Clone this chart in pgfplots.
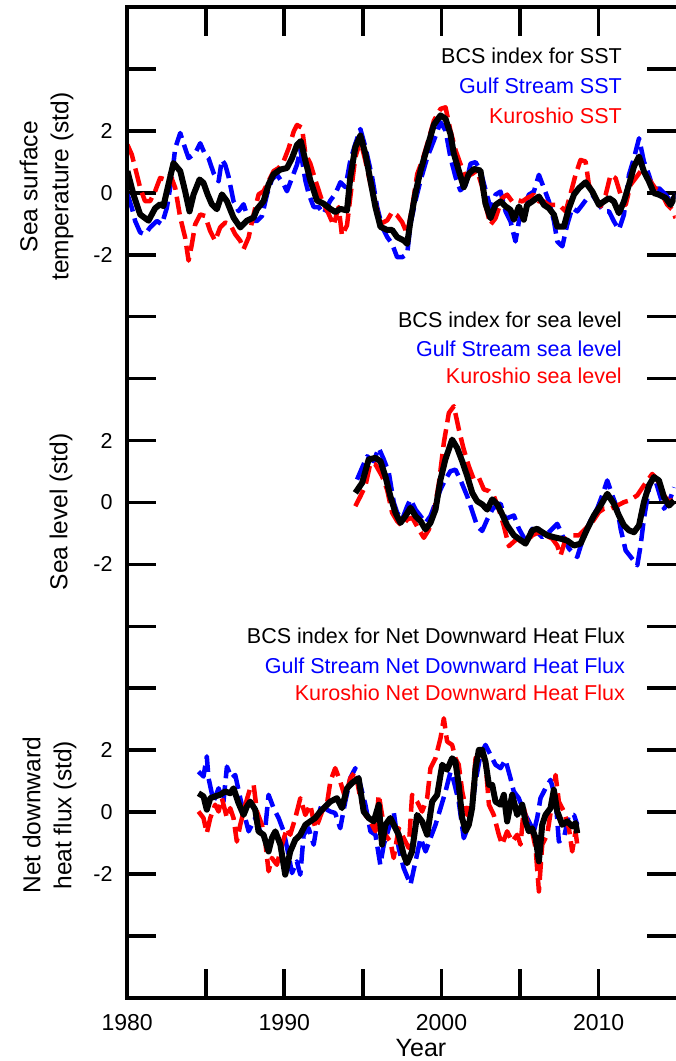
\documentclass[border=0pt]{standalone}
\usepackage{fontspec}
\setmainfont{Liberation Sans}
\usepackage{pgfplots}
\pgfplotsset{compat=1.18}
\pgfplotsset{
  gs/.style={blue, line width=4.5pt, dash pattern=on 18pt off 7pt, line join=round},
  ku/.style={red, line width=4.5pt, dash pattern=on 18pt off 7pt, line join=round},
  bcs/.style={black, line width=6pt, line join=round},
  sst/.style={y filter/.expression={y+10}},
  nhf/.style={y filter/.expression={y-10}},
}
\newcommand{\legfont}{\fontsize{21.5}{26}\selectfont}
\newcommand{\labfont}{\fontsize{24.5}{31}\selectfont}
\begin{document}
\begin{tikzpicture}
\begin{axis}[
  name=ax, scale only axis, width=548pt, height=990pt,
  xmin=1980, xmax=2014.9, ymin=-16, ymax=16,
  axis line style={draw=none},
  clip mode=individual,
  tick align=inside, xtick pos=both, ytick pos=both,
  major tick length=29pt,
  tick style={black, line width=3.6pt},
  xtick={1980,1985,...,2010}, xticklabels={1980,,1990,,2000,,2010},
  ytick={-14,-12,...,14}, yticklabels={,-2,0,2,,,-2,0,2,,,-2,0,2,},
  xticklabel style={font=\fontsize{23}{27}\selectfont, yshift=-13pt},
  yticklabel style={font=\fontsize{21.5}{25}\selectfont, xshift=-11pt},
]
% ---------- SST ----------
\addplot[gs, sst] coordinates {
(1980.02,-0.05)(1980.3,-0.48)(1980.51,-0.91)(1980.83,-1.28)(1981.14,-1.34)(1981.46,-1.12)
(1981.89,-0.91)(1982.21,-1.02)(1982.53,-0.48)(1982.84,0.48)(1983.06,1.44)(1983.38,1.93)
(1983.69,1.44)(1983.91,1.12)(1984.33,1.28)(1984.65,1.6)(1984.97,1.23)(1985.18,1.12)
(1985.5,0.64)(1985.82,0.37)(1986.03,1.07)(1986.24,0.91)(1986.45,0.53)(1986.77,-0.27)
(1987.09,-0.59)(1987.41,-0.37)(1987.62,-0.7)(1987.94,-0.91)(1988.26,-0.91)(1988.58,-0.75)
(1988.9,-0.05)(1989.21,0.43)(1989.53,0.59)(1989.96,0.27)(1990.17,0.05)(1990.49,0.48)
(1990.81,0.91)(1991.02,1.4)(1991.34,0.4)(1991.55,-0.03)(1991.87,-0.46)(1992.19,-0.46)
(1992.5,-0.68)(1992.93,-0.25)(1993.25,-0.03)(1993.57,0.34)(1993.89,0.18)(1994.2,1.04)
(1994.52,1.58)(1994.84,2.06)(1995.16,1.47)(1995.59,0.5)(1995.91,-0.46)(1996.23,-1.11)
(1996.55,-1.43)(1996.86,-1.65)(1997.18,-2.08)(1997.5,-2.08)(1997.82,-1.97)(1998.03,-1.0)
(1998.35,-0.25)(1998.67,0.4)(1999.1,1.15)(1999.52,1.69)(1999.94,2.28)(2000.26,2.01)
(2000.57,1.15)(2000.9,0.5)(2001.2,0.08)(2001.53,0.24)(2001.85,0.94)(2002.17,0.99)
(2002.48,0.72)(2002.8,0.1)(2003.12,-0.49)(2003.44,-0.06)(2003.76,0.04)(2004.08,-0.6)
(2004.39,-0.92)(2004.71,-1.57)(2004.93,-0.92)(2005.24,-0.49)(2005.56,-0.06)(2005.88,0.04)
(2006.2,0.58)(2006.52,0.15)(2006.84,-0.28)(2007.16,-0.92)(2007.37,-1.57)(2007.69,-1.73)
(2008.0,-1.03)(2008.32,-0.49)(2008.64,-0.6)(2008.96,-0.39)(2009.28,-0.17)(2009.6,-0.06)
(2010.02,-0.39)(2010.34,-0.6)(2010.66,-0.6)(2010.97,-0.92)(2011.29,-1.19)(2011.61,-0.71)
(2011.93,0.58)(2012.25,1.12)(2012.57,1.76)(2012.88,1.01)(2013.2,0.58)(2013.52,0.04)
(2013.84,0.15)(2014.27,-0.06)(2014.58,-0.28)(2014.9,-0.06)};
\addplot[ku, sst] coordinates {
(1980.02,1.55)(1980.3,1.23)(1980.62,0.59)(1980.83,0.16)(1981.14,-0.27)(1981.46,-0.27)
(1981.78,0.05)(1982.1,0.48)(1982.42,0.43)(1982.74,0.59)(1983.06,0.16)(1983.38,-0.8)
(1983.69,-1.44)(1983.91,-2.19)(1984.12,-1.66)(1984.33,-1.02)(1984.65,-0.7)(1984.97,-0.75)
(1985.28,-1.23)(1985.6,-1.55)(1985.92,-1.12)(1986.24,-0.96)(1986.56,-1.02)(1986.88,-1.34)
(1987.2,-1.55)(1987.41,-1.82)(1987.73,-1.44)(1988.05,-0.7)(1988.37,-0.05)(1988.68,0.05)
(1989.0,0.37)(1989.32,0.7)(1989.64,0.8)(1989.96,1.02)(1990.28,1.44)(1990.6,1.98)
(1990.81,2.19)(1991.13,2.1)(1991.34,1.26)(1991.66,0.94)(1991.98,0.4)(1992.4,-0.25)
(1992.82,-0.68)(1993.14,-1.05)(1993.46,-0.46)(1993.67,-1.38)(1993.99,-1.05)(1994.2,-0.14)
(1994.52,1.15)(1994.84,1.69)(1995.16,1.04)(1995.48,0.29)(1995.8,-0.35)(1996.12,-1.0)
(1996.55,-0.89)(1996.86,-0.62)(1997.18,-0.73)(1997.5,-0.95)(1997.82,-1.33)(1998.14,-0.46)
(1998.46,0.61)(1998.78,1.04)(1999.1,1.58)(1999.52,2.33)(1999.94,2.71)(2000.26,2.76)
(2000.57,2.01)(2000.9,1.37)(2001.2,0.94)(2001.53,0.51)(2001.95,0.61)(2002.27,0.72)
(2002.6,0.18)(2002.8,-0.39)(2003.12,-1.03)(2003.44,-0.82)(2003.86,-0.17)(2004.18,-0.06)
(2004.5,-0.28)(2004.82,-0.23)(2005.14,-0.28)(2005.45,-0.17)(2005.88,-0.06)(2006.2,-0.28)
(2006.52,-0.28)(2006.84,-0.39)(2007.16,-0.39)(2007.48,-0.39)(2007.9,-0.6)(2008.2,-0.06)
(2008.53,0.58)(2008.85,1.06)(2009.17,1.01)(2009.38,0.26)(2009.8,-0.17)(2010.13,-0.44)
(2010.45,-0.06)(2010.76,0.58)(2011.08,0.47)(2011.4,-0.06)(2011.72,-0.39)(2012.03,0.26)
(2012.35,0.47)(2012.67,0.69)(2012.99,0.58)(2013.3,0.37)(2013.6,0.15)(2013.94,0.04)
(2014.37,-0.39)(2014.7,-0.55)(2014.9,-0.82)};
\addplot[bcs, sst] coordinates {
(1980.02,0.7)(1980.4,-0.05)(1980.83,-0.7)(1981.36,-0.9)(1981.78,-0.5)(1982.1,-0.37)
(1982.31,-0.43)(1982.53,0.05)(1982.95,0.96)(1983.38,0.7)(1983.69,0.05)(1983.97,-0.6)
(1984.23,-0.05)(1984.61,0.43)(1984.86,0.32)(1985.12,-0.05)(1985.39,-0.37)(1985.71,-0.53)
(1986.03,-0.05)(1986.35,-0.27)(1986.77,-0.8)(1987.2,-1.12)(1987.62,-0.9)(1988.05,-0.8)
(1988.26,-0.53)(1988.68,-0.27)(1989.0,0.27)(1989.32,0.6)(1989.75,0.75)(1990.17,0.8)
(1990.49,1.12)(1990.81,1.55)(1991.05,1.67)(1991.34,1.04)(1991.66,0.4)(1992.08,-0.25)
(1992.5,-0.35)(1992.93,-0.52)(1993.25,-0.62)(1993.57,-0.52)(1993.99,-0.57)(1994.2,0.5)
(1994.52,1.47)(1994.84,1.85)(1995.16,1.26)(1995.48,0.4)(1995.8,-0.46)(1996.12,-1.1)
(1996.55,-1.2)(1996.86,-1.2)(1997.18,-1.43)(1997.6,-1.54)(1997.82,-1.65)(1998.03,-0.9)
(1998.35,0)(1998.67,0.72)(1999.1,1.47)(1999.52,2.2)(1999.94,2.5)(2000.26,2.39)
(2000.57,1.9)(2000.79,1.26)(2001.1,0.72)(2001.42,0.18)(2001.74,0.61)(2002.06,0.77)
(2002.48,0.72)(2002.8,-0.35)(2003.12,-0.82)(2003.44,-0.39)(2003.76,-0.28)(2004.08,-0.44)
(2004.39,-0.55)(2004.61,-0.87)(2004.93,-0.44)(2005.24,-0.87)(2005.45,-0.39)(2005.77,-0.28)
(2006.2,-0.12)(2006.52,-0.39)(2006.84,-0.5)(2007.16,-0.71)(2007.37,-1.09)(2007.79,-1.09)
(2008.11,-0.5)(2008.43,-0.06)(2008.75,0.15)(2009.17,0.34)(2009.6,0.04)(2010.02,-0.39)
(2010.34,-0.28)(2010.66,-0.17)(2010.97,-0.28)(2011.29,-0.66)(2011.61,-0.28)(2011.93,0.26)
(2012.25,0.85)(2012.57,1.17)(2012.88,0.69)(2013.2,0.37)(2013.52,-0.01)(2013.84,-0.06)
(2014.27,-0.17)(2014.58,-0.39)(2014.9,-0.06)};
% ---------- Sea level ----------
\addplot[gs] coordinates {
(1994.63,0.74)(1994.95,1.12)(1995.27,1.49)(1995.69,1.33)(1996.01,1.76)(1996.33,1.39)
(1996.65,0.96)(1996.97,-0.01)(1997.18,-0.33)(1997.5,-0.55)(1997.82,-0.12)(1998.03,0.1)
(1998.35,-0.23)(1998.67,-0.44)(1998.98,-0.66)(1999.3,-0.44)(1999.62,-0.01)(1999.94,0.42)
(2000.25,0.74)(2000.57,1.01)(2000.89,1.06)(2001.2,0.74)(2001.64,0.2)(2002.06,-0.44)
(2002.27,-0.76)(2002.59,-0.92)(2002.91,-0.55)(2003.23,-0.23)(2003.55,-0.06)(2003.76,-0.04)
(2004.07,-0.53)(2004.61,-0.42)(2004.93,-0.85)(2005.35,-1.23)(2005.78,-0.85)(2006.09,-0.96)
(2006.41,-1.12)(2006.84,-0.96)(2007.37,-0.69)(2007.69,-1.06)(2008.11,-1.49)(2008.64,-1.76)
(2009.07,-1.06)(2009.49,-0.58)(2009.91,-0.2)(2010.23,0.23)(2010.55,0.71)(2010.87,0.23)
(2011.19,-0.2)(2011.4,-0.85)(2011.72,-1.55)(2012.14,-1.82)(2012.46,-2.03)(2012.67,-1.39)
(2012.88,-0.53)(2013.2,0.44)(2013.52,0.87)(2013.84,0.33)(2014.16,-0.2)(2014.48,0.01)
(2014.8,0.49)};
\addplot[ku] coordinates {
(1994.52,-0.12)(1994.84,0.2)(1995.16,0.53)(1995.48,1.28)(1995.8,1.23)(1996.22,0.85)
(1996.54,0.42)(1996.86,-0.33)(1997.18,-0.6)(1997.5,-0.76)(1997.82,-0.55)(1998.14,-0.49)
(1998.56,-0.87)(1998.88,-1.14)(1999.2,-0.87)(1999.52,-0.33)(1999.84,0.63)(2000.15,1.92)
(2000.47,2.89)(2000.79,3.11)(2001.11,2.35)(2001.42,1.71)(2001.74,1.17)(2002.06,0.74)
(2002.38,0.8)(2002.7,0.42)(2003.02,0.37)(2003.34,0.2)(2003.66,-0.23)(2003.97,-0.76)
(2004.29,-1.41)(2004.82,-1.17)(2005.24,-1.33)(2005.78,-1.06)(2006.2,-0.96)(2006.62,-1.06)
(2007.05,-1.17)(2007.37,-1.39)(2007.58,-1.71)(2007.9,-1.17)(2008.32,-1.06)(2008.75,-1.06)
(2009.17,-0.85)(2009.6,-0.63)(2010.02,-0.31)(2010.34,-0.2)(2010.76,-0.2)(2011.19,-0.1)
(2011.61,0.01)(2011.93,0.06)(2012.46,0.23)(2012.88,0.55)(2013.41,0.92)(2013.73,0.76)
(2014.16,0.23)(2014.48,0.01)(2014.8,0.12)};
\addplot[bcs] coordinates {
(1994.52,0.31)(1994.95,0.63)(1995.37,1.39)(1995.8,1.44)(1996.12,1.33)(1996.43,0.85)
(1996.75,0.2)(1997.07,-0.33)(1997.39,-0.66)(1997.71,-0.44)(1998.03,-0.17)(1998.35,-0.44)
(1998.67,-0.6)(1998.98,-0.87)(1999.3,-0.66)(1999.62,-0.23)(1999.94,0.74)(2000.25,1.39)
(2000.68,2.03)(2001.0,1.76)(2001.32,1.33)(2001.64,0.85)(2001.96,0.31)(2002.27,0.04)
(2002.59,-0.06)(2002.91,-0.23)(2003.23,0.1)(2003.55,-0.06)(2003.87,-0.39)(2004.18,-0.74)
(2004.61,-1.06)(2005.35,-1.33)(2005.78,-0.9)(2006.09,-0.85)(2006.41,-0.96)(2006.73,-1.06)
(2007.15,-1.12)(2007.58,-1.17)(2008.0,-1.23)(2008.43,-1.39)(2008.85,-1.33)(2009.28,-0.85)
(2009.7,-0.42)(2010.12,-0.1)(2010.55,0.28)(2010.97,-0.04)(2011.29,-0.42)(2011.61,-0.74)
(2011.93,-0.9)(2012.25,-0.96)(2012.57,-0.74)(2012.88,0.01)(2013.2,0.55)(2013.52,0.82)
(2013.84,0.71)(2014.16,0.17)(2014.48,-0.1)(2014.8,0.06)};
% ---------- Net downward heat flux ----------
\addplot[gs, nhf] coordinates {
(1984.54,1.31)(1984.86,1.15)(1985.07,1.8)(1985.18,1.1)(1985.5,0.34)(1985.82,0.77)
(1986.13,0.34)(1986.35,1.47)(1986.66,1.1)(1986.88,1.2)(1987.2,0.45)(1987.41,0.02)
(1987.73,-0.62)(1987.94,-0.41)(1988.15,-0.19)(1988.47,-0.62)(1988.79,-0.52)(1989.0,0.56)
(1989.32,0.13)(1989.64,-0.19)(1989.96,-0.62)(1990.27,-1.38)(1990.49,-1.97)(1990.8,-1.59)
(1991.02,-2.02)(1991.23,-0.73)(1991.55,-0.52)(1991.87,-1.05)(1992.18,-0.09)(1992.4,0.29)
(1992.71,0.08)(1992.93,0.02)(1993.24,-0.03)(1993.56,-0.52)(1993.88,0.34)(1994.2,1.1)
(1994.52,1.42)(1994.84,0.88)(1995.16,0.24)(1995.48,-0.62)(1995.8,-0.73)(1996.11,-1.7)
(1996.33,-1.05)(1996.65,-0.52)(1996.96,0.02)(1997.28,-1.16)(1997.6,-1.81)(1998.03,-2.34)
(1998.35,-1.59)(1998.67,-0.84)(1998.99,-1.27)(1999.3,-0.84)(1999.62,-0.41)(1999.94,0.13)
(2000.26,0.67)(2000.58,1.31)(2000.79,0.99)(2001.1,0.34)(2001.42,-0.84)(2001.74,-0.41)
(2001.85,-0.19)(2002.17,0.99)(2002.48,1.85)(2002.8,2.17)(2003.12,1.85)(2003.44,1.53)
(2003.76,1.42)(2004.07,1.69)(2004.39,1.1)(2004.6,0.67)(2004.92,0.45)(2005.24,0.02)
(2005.56,-0.3)(2005.88,-0.62)(2006.09,-0.19)(2006.3,0.45)(2006.62,0.77)(2006.94,1.04)
(2007.26,0.45)(2007.47,-0.95)(2007.79,-0.84)(2008.11,-0.09)(2008.43,-0.09)(2008.64,-0.41)};
\addplot[ku, nhf] coordinates {
(1984.54,0.02)(1984.86,-0.19)(1985.07,-0.68)(1985.29,-0.19)(1985.6,0.24)(1985.82,0.02)
(1986.03,0.45)(1986.35,-0.19)(1986.56,0.13)(1986.77,-0.19)(1986.98,-0.95)(1987.2,-0.41)
(1987.52,0.24)(1987.83,0.77)(1988.05,0.88)(1988.26,0.02)(1988.58,-0.41)(1988.79,-0.95)
(1989.0,-1.91)(1989.21,-1.48)(1989.53,-1.7)(1989.85,-1.05)(1990.17,-0.52)(1990.38,-0.73)
(1990.7,-0.19)(1991.02,0.45)(1991.34,-0.09)(1991.65,0.24)(1991.97,-0.52)(1992.18,-0.3)
(1992.4,0.02)(1992.71,0.24)(1992.93,0.99)(1993.24,1.42)(1993.56,0.99)(1993.88,0.45)
(1994.2,1.1)(1994.52,1.31)(1994.84,0.45)(1995.16,-0.09)(1995.48,-0.3)(1995.8,-0.62)
(1996.01,0.56)(1996.22,-0.09)(1996.43,-0.73)(1996.75,-0.95)(1996.96,-1.48)(1997.28,-0.52)
(1997.6,-0.84)(1997.92,-1.16)(1998.13,0.56)(1998.45,0.34)(1998.77,0.02)(1999.09,0.45)
(1999.3,1.42)(1999.62,1.74)(1999.94,2.39)(2000.15,3.03)(2000.36,2.28)(2000.68,2.17)
(2000.89,1.74)(2001.1,1.53)(2001.32,0.67)(2001.63,-0.09)(2001.95,0.34)(2002.17,1.74)
(2002.48,1.96)(2002.8,1.63)(2003.02,0.24)(2003.33,-0.09)(2003.65,-0.73)(2003.86,-1.05)
(2004.18,-0.62)(2004.5,-0.95)(2004.82,-0.73)(2005.03,-1.05)(2005.24,0.13)(2005.45,-0.3)
(2005.77,-0.62)(2005.99,-1.16)(2006.2,-2.56)(2006.41,-1.05)(2006.73,-0.73)(2007.05,0.34)
(2007.26,1.2)(2007.47,0.34)(2007.79,0.02)(2008.11,-0.52)(2008.32,-1.27)(2008.53,-0.62)
(2008.64,-1.05)};
\addplot[bcs, nhf] coordinates {
(1984.54,0.61)(1984.86,0.51)(1985.07,0.08)(1985.29,0.45)(1985.6,0.51)(1985.92,0.56)
(1986.24,0.67)(1986.56,0.61)(1986.77,0.77)(1987.09,0.29)(1987.41,-0.09)(1987.62,0.18)
(1987.83,0.34)(1988.15,0.08)(1988.36,-0.62)(1988.68,-0.73)(1989.0,-1.27)(1989.21,-0.84)
(1989.43,-0.62)(1989.75,-1.05)(1990.06,-2.02)(1990.38,-1.27)(1990.7,-0.89)(1991.02,-0.73)
(1991.34,-0.41)(1991.65,-0.3)(1991.97,-0.19)(1992.29,0.02)(1992.61,0.18)(1992.93,0.34)
(1993.35,0.45)(1993.67,0.13)(1993.99,0.77)(1994.31,0.94)(1994.73,1.1)(1995.05,0.02)
(1995.37,-0.19)(1995.69,-0.3)(1996.01,0.24)(1996.22,-1.05)(1996.43,-0.41)(1996.75,-0.19)
(1997.07,-0.52)(1997.28,-0.73)(1997.6,-1.38)(1997.81,-1.65)(1998.13,-1.27)(1998.45,-0.09)
(1998.77,-0.3)(1999.09,-0.73)(1999.41,0.34)(1999.73,0.56)(2000.05,1.53)(2000.36,1.37)
(2000.68,1.74)(2000.89,1.63)(2001.1,0.88)(2001.32,-0.19)(2001.53,-0.62)(2001.74,-0.41)
(2001.95,0.13)(2002.17,1.42)(2002.38,2.01)(2002.59,2.01)(2002.8,1.63)(2003.02,0.88)
(2003.23,0.88)(2003.44,0.34)(2003.76,0.24)(2003.97,0.56)(2004.18,-0.3)(2004.5,0.56)
(2004.82,-0.09)(2005.14,0.24)(2005.35,-0.3)(2005.56,-0.62)(2005.77,-0.52)(2005.99,-0.84)
(2006.2,-1.59)(2006.41,-0.41)(2006.62,-0.09)(2006.94,0.13)(2007.15,0.72)(2007.37,0.02)
(2007.69,-0.41)(2008.0,-0.3)(2008.32,-0.46)(2008.53,-0.35)(2008.64,-0.68)};
% ---------- legends ----------
\node[anchor=east, black, font=\legfont] at (axis cs:2011.7,14.42) {BCS index for SST};
\node[anchor=east, blue, font=\legfont] at (axis cs:2011.7,13.45) {Gulf Stream SST};
\node[anchor=east, red, font=\legfont] at (axis cs:2011.7,12.48) {Kuroshio SST};
\node[anchor=east, black, font=\legfont] at (axis cs:2011.7,5.9) {BCS index for sea level};
\node[anchor=east, blue, font=\legfont] at (axis cs:2011.7,4.97) {Gulf Stream sea level};
\node[anchor=east, red, font=\legfont] at (axis cs:2011.7,4.1) {Kuroshio sea level};
\node[anchor=east, black, font=\legfont] at (axis cs:2011.9,-4.29) {BCS index for Net Downward Heat Flux};
\node[anchor=east, blue, font=\legfont] at (axis cs:2011.9,-5.26) {Gulf Stream Net Downward Heat Flux};
\node[anchor=east, red, font=\legfont] at (axis cs:2011.9,-6.16) {Kuroshio Net Downward Heat Flux};
% ---------- axis titles ----------
\node[rotate=90, anchor=south, align=center, font=\labfont] at ([xshift=-50pt]axis cs:1980,10.2) {Sea surface\\temperature (std)};
\node[rotate=90, anchor=south, align=center, font=\labfont] at ([xshift=-51pt]axis cs:1980,-0.3) {Sea level (std)};
\node[rotate=90, anchor=south, align=center, font=\labfont] at ([xshift=-47pt]axis cs:1980,-10.1) {Net downward\\heat flux (std)};
\node[anchor=base, font=\fontsize{25}{30}\selectfont] at ([yshift=-59pt]axis cs:1998.7,-16) {Year};
\end{axis}
\draw[line width=4pt] (ax.north east) -- (ax.north west) -- (ax.south west) -- (ax.south east);
\pgfresetboundingbox
\path ([xshift=-127pt,yshift=-63pt]ax.south west) rectangle ([yshift=7pt]ax.north east);
\end{tikzpicture}
\end{document}
